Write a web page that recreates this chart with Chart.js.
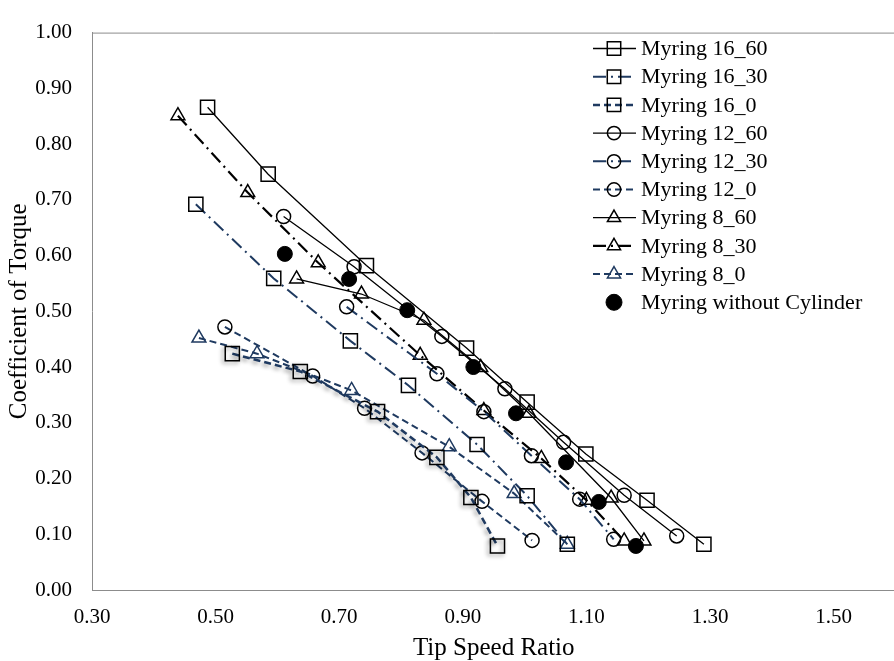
<!DOCTYPE html>
<html>
<head>
<meta charset="utf-8">
<script src="https://cdn.jsdelivr.net/npm/chart.js@4.4.0/dist/chart.umd.min.js"></script>
<style>
  body { margin: 0; background: #fff; overflow: hidden; }
  #wrap { width: 907px; height: 661px; }
</style>
</head>
<body>
<div id="wrap"><canvas id="myChart" width="907" height="661"></canvas></div>
<script>
// values
const xTicks = [0.30, 0.50, 0.70, 0.90, 1.10, 1.30, 1.50]
const yTicks = [0.00, 0.10, 0.20, 0.30, 0.40, 0.50, 0.60, 0.70, 0.80, 0.90, 1.00]

const labels = ['Myring 16_60', 'Myring 16_30', 'Myring 16_0', 'Myring 12_60', 'Myring 12_30',
    'Myring 12_0', 'Myring 8_60', 'Myring 8_30', 'Myring 8_0', 'Myring without Cylinder']

const x16_60 = [0.487, 0.585, 0.744, 0.906, 1.004, 1.099, 1.198, 1.290]
const y16_60 = [0.866, 0.746, 0.582, 0.434, 0.337, 0.244, 0.161, 0.082]
const x16_30 = [0.468, 0.594, 0.718, 0.812, 0.923, 1.004, 1.069]
const y16_30 = [0.692, 0.559, 0.447, 0.367, 0.261, 0.169, 0.082]
const x16_0 = [0.527, 0.637, 0.762, 0.858, 0.913, 0.956]
const y16_0 = [0.424, 0.392, 0.320, 0.238, 0.166, 0.079]
const x12_60 = [0.610, 0.724, 0.866, 0.968, 1.063, 1.161, 1.246]
const y12_60 = [0.670, 0.580, 0.455, 0.361, 0.265, 0.170, 0.097]
const x12_30 = [0.712, 0.858, 0.934, 1.011, 1.089, 1.144]
const y12_30 = [0.508, 0.388, 0.320, 0.241, 0.163, 0.091]
const x12_0 = [0.515, 0.657, 0.741, 0.834, 0.931, 1.012]
const y12_0 = [0.472, 0.384, 0.326, 0.246, 0.159, 0.089]
const x8_60 = [0.631, 0.736, 0.837, 0.929, 1.007, 1.140, 1.193]
const y8_60 = [0.558, 0.531, 0.484, 0.399, 0.317, 0.165, 0.088]
const x8_30 = [0.439, 0.552, 0.666, 0.831, 0.934, 1.027, 1.100, 1.161]
const y8_30 = [0.851, 0.713, 0.587, 0.421, 0.322, 0.236, 0.161, 0.088]
const x8_0 = [0.473, 0.567, 0.720, 0.878, 0.983, 1.069]
const y8_0 = [0.452, 0.424, 0.358, 0.257, 0.173, 0.082]
const xNoCyl = [0.612, 0.716, 0.810, 0.917, 0.986, 1.067, 1.120, 1.180]
const yNoCyl = [0.603, 0.558, 0.502, 0.400, 0.317, 0.229, 0.158, 0.079]

const navy = '#1f3a60'
const serif = 'Liberation Serif, Times New Roman, serif'
const dashDot = [13, 5, 2, 5]
const dashed = [7, 4]

function pts(xs, ys) {
    return xs.map((x, i) => ({ x: x, y: ys[i] }))
}

function series(label, xs, ys, style, radius, color, width, dash, pointColor) {
    return {
        label: label,
        data: pts(xs, ys),
        showLine: true,
        borderColor: color,
        borderWidth: width,
        borderDash: dash,
        pointStyle: style,
        pointRadius: radius,
        pointHoverRadius: radius,
        pointBorderWidth: 1.5,
        pointBorderColor: pointColor || '#000',
        pointBackgroundColor: 'rgba(0,0,0,0)',
        tension: 0
    }
}

const datasets = [
    series(labels[0], x16_60, y16_60, 'rect', 10, '#000', 1.3, []),
    series(labels[1], x16_30, y16_30, 'rect', 10, navy, 2, dashDot),
    series(labels[2], x16_0, y16_0, 'rect', 10, navy, 2.5, dashed),
    series(labels[3], x12_60, y12_60, 'circle', 7, '#000', 1.3, []),
    series(labels[4], x12_30, y12_30, 'circle', 7, navy, 2, dashDot),
    series(labels[5], x12_0, y12_0, 'circle', 7, navy, 2, dashed),
    series(labels[6], x8_60, y8_60, 'triangle', 8, '#000', 1.3, []),
    series(labels[7], x8_30, y8_30, 'triangle', 8, '#000', 2.2, dashDot),
    series(labels[8], x8_0, y8_0, 'triangle', 8, navy, 2, dashed, navy),
    {
        label: labels[9],
        data: pts(xNoCyl, yNoCyl),
        showLine: false,
        pointStyle: 'circle',
        pointRadius: 7.5,
        pointHoverRadius: 7.5,
        pointBorderWidth: 1,
        pointBorderColor: '#000',
        pointBackgroundColor: '#000'
    }
]

// top edge of the plot box
const boxLine = {
    id: 'boxLine',
    beforeDatasetsDraw(chart) {
        const { ctx, chartArea } = chart
        ctx.save()
        ctx.strokeStyle = '#8c8c8c'
        ctx.lineWidth = 1
        ctx.beginPath()
        ctx.moveTo(chartArea.left, chartArea.top + 0.5)
        ctx.lineTo(chartArea.right, chartArea.top + 0.5)
        ctx.stroke()
        ctx.restore()
    }
}

// soft shadow under the 16_0 series
const shadow = {
    id: 'shadow',
    beforeDatasetDraw(chart, args) {
        if (args.index !== 2) return
        const ctx = chart.ctx
        ctx.save()
        ctx.shadowColor = 'rgba(0,0,0,0.45)'
        ctx.shadowBlur = 4
        ctx.shadowOffsetX = -2
        ctx.shadowOffsetY = 2
    },
    afterDatasetDraw(chart, args) {
        if (args.index !== 2) return
        chart.ctx.restore()
    }
}

// legend drawn with each dataset's own line and marker
const legendBox = {
    id: 'legendBox',
    afterDraw(chart) {
        const ctx = chart.ctx
        chart.data.datasets.forEach((ds, i) => {
            const y = 48.5 + 28.2 * i
            ctx.save()
            if (ds.showLine) {
                ctx.strokeStyle = ds.borderColor
                ctx.lineWidth = ds.borderWidth
                ctx.setLineDash(ds.borderDash)
                ctx.beginPath()
                ctx.moveTo(593, y)
                ctx.lineTo(636, y)
                ctx.stroke()
                ctx.setLineDash([])
            }
            ctx.strokeStyle = ds.pointBorderColor
            ctx.fillStyle = ds.pointBackgroundColor
            ctx.lineWidth = ds.pointBorderWidth
            Chart.helpers.drawPoint(ctx, {
                pointStyle: ds.pointStyle,
                radius: ds.showLine ? ds.pointRadius * 0.95 : 8,
                borderWidth: ds.pointBorderWidth,
                rotation: 0
            }, 614, y)
            ctx.fillStyle = '#000'
            ctx.font = '22px ' + serif
            ctx.textBaseline = 'middle'
            ctx.textAlign = 'left'
            ctx.fillText(ds.label, 641, y + 1)
            ctx.restore()
        })
    }
}

const ctx = document.getElementById('myChart').getContext('2d')
const myChart = new Chart(ctx, {
    type: 'scatter',
    data: { datasets: datasets },
    options: {
        responsive: false,
        animation: false,
        devicePixelRatio: 1,
        layout: { padding: { top: 22, right: 0, bottom: 0, left: 0 } },
        plugins: { legend: { display: false }, tooltip: { enabled: false } },
        scales: {
            x: {
                type: 'linear',
                min: 0.3,
                max: 1.6,
                afterBuildTicks: s => { s.ticks = xTicks.map(v => ({ value: v })) },
                afterFit: s => { s.height = 71 },
                grid: { display: false, drawTicks: false },
                border: { display: true, color: '#8c8c8c', width: 1 },
                ticks: {
                    callback: v => v.toFixed(2),
                    color: '#000',
                    font: { family: serif, size: 21 },
                    padding: 15,
                    autoSkip: false,
                    maxRotation: 0
                },
                title: {
                    display: true,
                    text: 'Tip Speed Ratio',
                    color: '#000',
                    font: { family: serif, size: 25, lineHeight: 1 },
                    padding: { top: 0, bottom: 0 }
                }
            },
            y: {
                min: 0,
                max: 1,
                afterBuildTicks: s => { s.ticks = yTicks.map(v => ({ value: v })) },
                afterFit: s => { s.width = 92 },
                grid: { display: false, drawTicks: false },
                border: { display: true, color: '#8c8c8c', width: 1 },
                ticks: {
                    callback: v => v.toFixed(2),
                    color: '#000',
                    font: { family: serif, size: 21 },
                    padding: 20,
                    autoSkip: false
                },
                title: {
                    display: true,
                    text: 'Coefficient of Torque',
                    color: '#000',
                    font: { family: serif, size: 25, lineHeight: 1 },
                    padding: { top: 7, bottom: 0 }
                }
            }
        }
    },
    plugins: [boxLine, shadow, legendBox]
})
</script>
</body>
</html>
